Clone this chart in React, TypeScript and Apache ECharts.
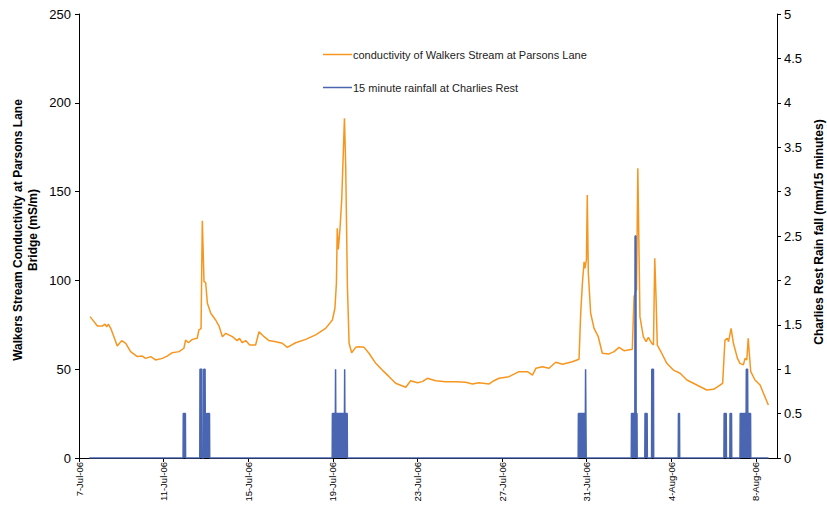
import React, { useEffect, useRef } from "react";
import * as echarts from "echarts";

// x values are days since 7-Jul-06 00:00
const xTickLabels = ["7-Jul-06", "11-Jul-06", "15-Jul-06", "19-Jul-06", "23-Jul-06", "27-Jul-06", "31-Jul-06", "4-Aug-06", "8-Aug-06"];
const leftTicks = [0, 50, 100, 150, 200, 250];
const rightTicks = [0, 0.5, 1, 1.5, 2, 2.5, 3, 3.5, 4, 4.5, 5];

const condName = "conductivity of Walkers Stream at Parsons Lane";
const rainName = "15 minute rainfall at Charlies Rest";

const conductivity: [number, number][] = [
  [0.52, 79.6], [0.71, 76.8], [0.87, 74.3], [1.10, 74.3], [1.23, 75.4], [1.31, 73.9], [1.39, 75.4], [1.50, 73.0],
  [1.65, 68.3], [1.81, 63.1], [2.02, 66.1], [2.21, 64.6], [2.44, 59.9], [2.76, 57.1], [2.99, 57.4], [3.15, 56.1],
  [3.39, 57.1], [3.62, 55.2], [3.94, 56.1], [4.17, 57.4], [4.41, 59.3], [4.73, 59.9], [4.96, 61.8], [5.04, 66.4],
  [5.17, 64.9], [5.36, 66.8], [5.59, 67.4], [5.67, 72.1], [5.77, 72.8], [5.83, 133.6], [5.91, 99.3], [5.99, 98.7],
  [6.07, 87.1], [6.23, 81.5], [6.46, 77.7], [6.62, 74.3], [6.78, 68.3], [6.94, 70.2], [7.25, 68.3], [7.48, 66.1],
  [7.59, 67.4], [7.72, 64.9], [7.88, 66.1], [8.07, 63.6], [8.35, 63.6], [8.51, 71.1], [8.75, 68.3], [8.98, 66.1],
  [9.30, 65.5], [9.61, 64.6], [9.85, 62.3], [10.24, 64.9], [10.72, 66.8], [11.19, 69.3], [11.66, 73.0], [11.98, 77.7],
  [12.10, 84.3], [12.17, 98.4], [12.21, 129.3], [12.26, 117.5], [12.33, 127.4], [12.42, 145.3], [12.55, 191.3],
  [12.61, 164.0], [12.69, 96.5], [12.77, 64.6], [12.89, 59.3], [13.08, 62.3], [13.24, 62.7], [13.48, 62.3],
  [13.71, 59.0], [14.03, 53.3], [14.34, 49.5], [14.66, 45.8], [14.97, 42.1], [15.45, 39.8], [15.68, 43.5],
  [16.00, 42.4], [16.23, 43.0], [16.47, 44.9], [16.86, 43.5], [17.34, 43.0], [17.81, 43.0], [18.28, 42.6],
  [18.60, 41.7], [18.91, 42.4], [19.39, 41.7], [19.62, 43.5], [19.86, 44.9], [20.33, 45.8], [20.80, 48.6],
  [21.20, 48.6], [21.44, 46.7], [21.60, 50.5], [21.91, 51.4], [22.22, 50.5], [22.54, 53.9], [22.86, 52.8],
  [23.32, 54.2], [23.64, 55.6], [23.72, 81.5], [23.80, 98.4], [23.88, 110.5], [23.92, 106.8], [23.99, 111.5],
  [24.03, 148.1], [24.08, 104.0], [24.19, 81.5], [24.35, 73.0], [24.55, 68.3], [24.74, 59.0], [25.06, 58.6],
  [25.30, 59.9], [25.53, 62.3], [25.77, 60.4], [26.16, 61.2], [26.24, 90.8], [26.36, 95.0], [26.42, 163.1],
  [26.52, 79.6], [26.68, 68.3], [26.81, 65.5], [26.92, 67.9], [27.08, 64.6], [27.16, 63.6], [27.22, 112.4],
  [27.28, 90.8], [27.34, 63.6], [27.55, 59.0], [27.79, 53.3], [28.10, 49.5], [28.42, 47.7], [28.74, 43.9],
  [29.21, 41.1], [29.68, 38.3], [30.00, 38.7], [30.31, 41.1], [30.43, 42.0], [30.54, 66.4], [30.65, 67.4],
  [30.71, 65.5], [30.83, 73.0], [30.94, 64.6], [31.13, 56.1], [31.25, 53.3], [31.41, 52.4], [31.49, 56.1],
  [31.57, 55.2], [31.64, 67.4], [31.69, 59.0], [31.76, 48.6], [31.96, 43.9], [32.20, 41.1], [32.59, 29.8],
];

const rain: [number, number][] = [
  [0.48, 0],
  [4.92, 0], [4.93, 0.5], [5.03, 0.5], [5.04, 0],
  [5.71, 0], [5.72, 1], [5.81, 1], [5.82, 0],
  [5.89, 0], [5.90, 1], [5.96, 1], [5.97, 0.5], [6.02, 0.5], [6.03, 0],
  [6.06, 0], [6.07, 0.5], [6.17, 0.5], [6.18, 0],
  [11.97, 0], [11.98, 0.5], [12.12, 0.5], [12.13, 1], [12.14, 0.5], [12.55, 0.5], [12.56, 1], [12.57, 0.5], [12.68, 0.5], [12.69, 0],
  [23.60, 0], [23.61, 0.5], [23.94, 0.5], [23.95, 1], [23.97, 1], [23.98, 0],
  [26.11, 0], [26.12, 0.5], [26.28, 0.5], [26.29, 2.5], [26.33, 2.5], [26.34, 0.5], [26.38, 0.5], [26.39, 0],
  [26.75, 0], [26.76, 0.5], [26.86, 0.5], [26.87, 0],
  [27.07, 0], [27.08, 1], [27.16, 1], [27.17, 0],
  [28.33, 0], [28.34, 0.5], [28.39, 0.5], [28.40, 0],
  [30.49, 0], [30.50, 0.5], [30.60, 0.5], [30.61, 0],
  [30.77, 0], [30.78, 0.5], [30.85, 0.5], [30.86, 0],
  [31.25, 0], [31.26, 0.5], [31.36, 0.5], [31.37, 0],
  [31.38, 0], [31.39, 0.5], [31.54, 0.5], [31.55, 1], [31.61, 1], [31.62, 0.5], [31.75, 0.5], [31.76, 0],
  [32.60, 0],
];

const ORANGE = "#F7961F";
const BLUE = "#4A66B2";
const FONT = "'Liberation Sans', Arial, sans-serif";

export default function App() {
  const ref = useRef<HTMLDivElement>(null);
  useEffect(() => {
    const chart = echarts.init(ref.current!, null, { renderer: "svg" });
    chart.setOption({
      animation: false,
      backgroundColor: "#fff",
      textStyle: { fontFamily: FONT },
      grid: { left: 79, right: 50, top: 14, bottom: 50 },
      legend: {
        orient: "vertical",
        left: 318,
        top: 44,
        itemGap: 22,
        itemWidth: 29,
        itemHeight: 1.5,
        icon: "rect",
        textStyle: { fontSize: 11, color: "#222", fontFamily: FONT, padding: [0, 0, 0, -4] },
        data: [condName, rainName],
      },
      xAxis: {
        type: "value",
        min: 0,
        max: 33,
        interval: 4,
        axisLine: { show: true, onZero: false, lineStyle: { color: "#000", width: 1 } },
        axisTick: { show: true, length: 4, lineStyle: { color: "#000" } },
        splitLine: { show: false },
        axisLabel: {
          rotate: 90,
          fontSize: 9.5,
          color: "#000",
          margin: 4,
          showMaxLabel: false,
          formatter: (v: number) => (v % 4 === 0 ? xTickLabels[v / 4] ?? "" : ""),
        },
      },
      yAxis: [
        {
          type: "value",
          position: "left",
          min: leftTicks[0],
          max: leftTicks[leftTicks.length - 1],
          interval: 50,
          axisLine: { show: true, lineStyle: { color: "#000", width: 1 } },
          axisTick: { show: true, length: 4, lineStyle: { color: "#000" } },
          splitLine: { show: false },
          axisLabel: { fontSize: 13, color: "#000", margin: 8 },
        },
        {
          type: "value",
          position: "right",
          min: rightTicks[0],
          max: rightTicks[rightTicks.length - 1],
          interval: 0.5,
          axisLine: { show: true, lineStyle: { color: "#000", width: 1 } },
          axisTick: { show: true, length: 4, lineStyle: { color: "#000" } },
          splitLine: { show: false },
          axisLabel: { fontSize: 13, color: "#000", margin: 7, formatter: (v: number) => String(v) },
        },
      ],
      graphic: [
        {
          type: "text",
          x: 25,
          y: 230,
          rotation: Math.PI / 2,
          style: {
            text: "Walkers Stream Conductivity at Parsons Lane\nBridge (mS/m)",
            font: `bold 12px ${FONT}`,
            fill: "#000",
            align: "center",
            verticalAlign: "middle",
            lineHeight: 15,
          },
        },
        {
          type: "text",
          x: 819,
          y: 232,
          rotation: Math.PI / 2,
          style: {
            text: "Charlies Rest Rain fall (mm/15 minutes)",
            font: `bold 12px ${FONT}`,
            fill: "#000",
            align: "center",
            verticalAlign: "middle",
          },
        },
      ],
      series: [
        {
          name: condName,
          type: "line",
          yAxisIndex: 0,
          data: conductivity,
          symbol: "none",
          lineStyle: { color: ORANGE, width: 1.5 },
          itemStyle: { color: ORANGE },
        },
        {
          name: rainName,
          type: "line",
          yAxisIndex: 1,
          data: rain,
          symbol: "none",
          lineStyle: { color: BLUE, width: 1.5 },
          itemStyle: { color: BLUE },
          areaStyle: { color: BLUE, opacity: 1 },
        },
      ],
    });
    return () => chart.dispose();
  }, []);
  return <div ref={ref} style={{ position: "fixed", left: 0, top: 0, width: 827, height: 508 }} />;
}
